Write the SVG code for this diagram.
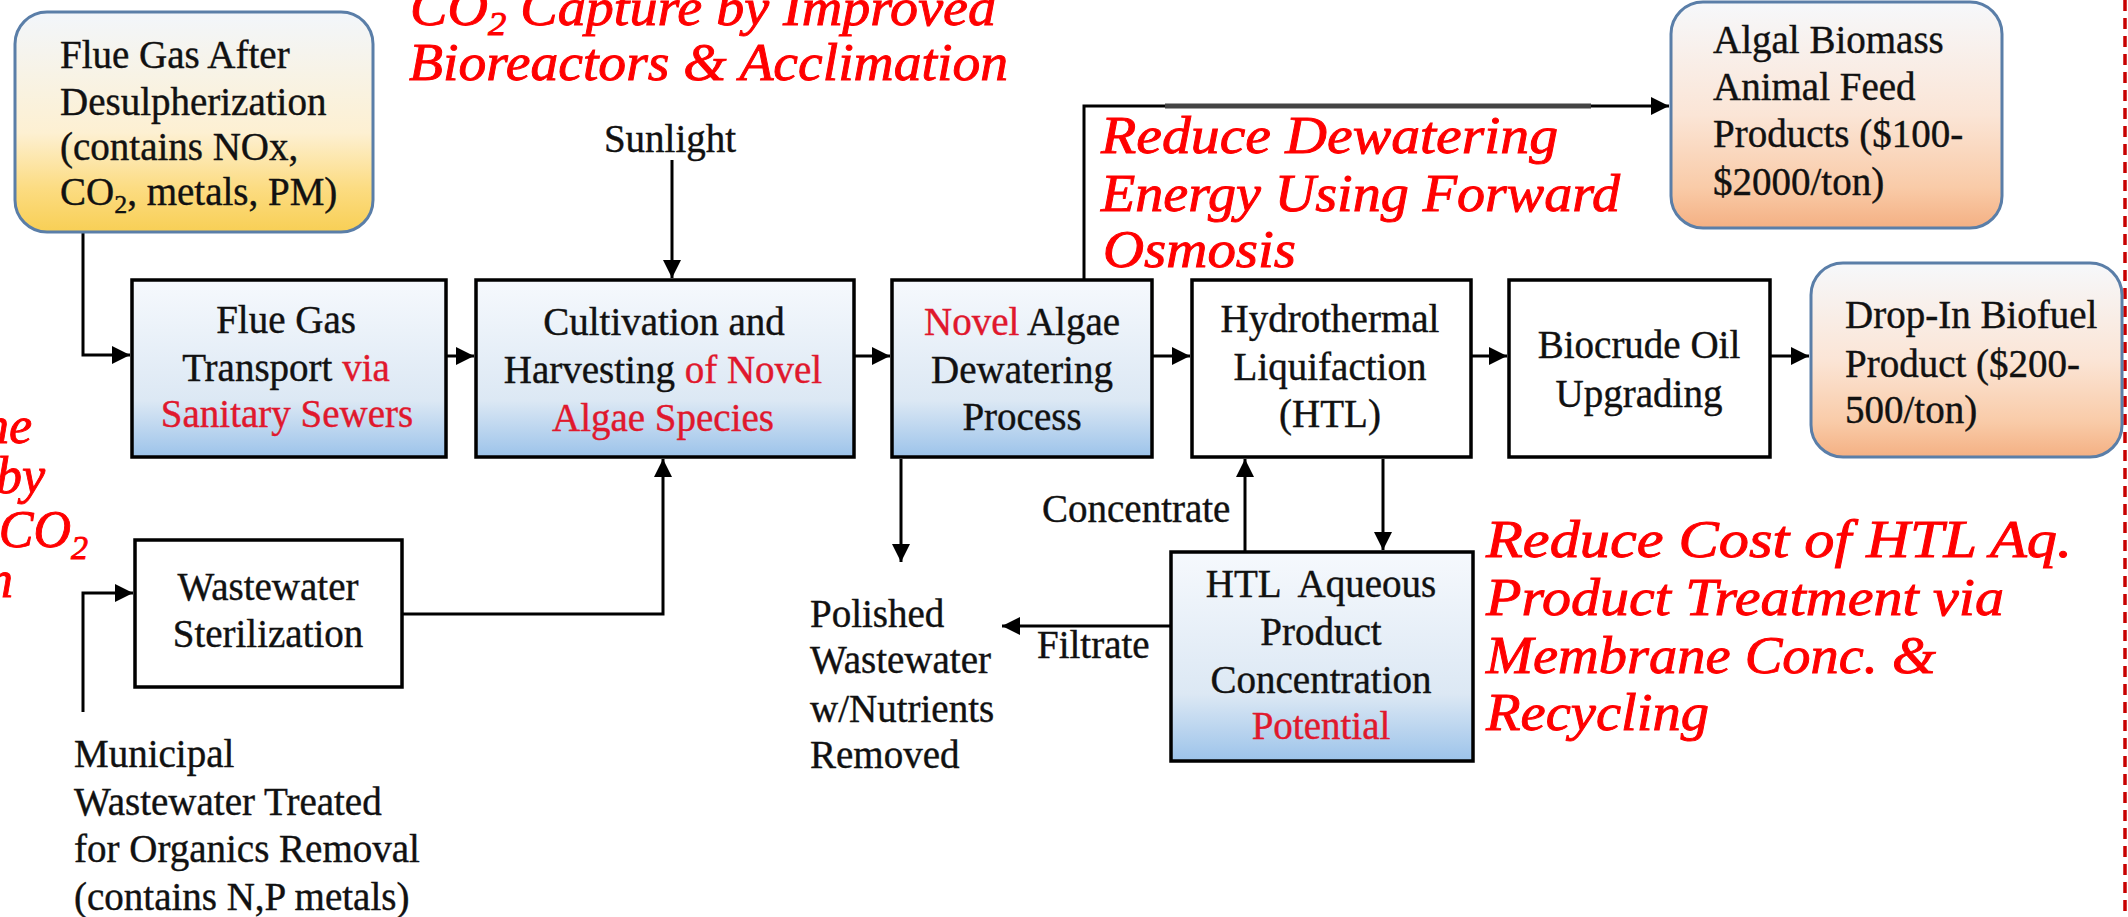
<svg xmlns="http://www.w3.org/2000/svg" width="2128" height="917" viewBox="0 0 2128 917">
<style>
.t{font-family:"Liberation Serif","Times New Roman",serif;font-size:39px;fill:#111;stroke:#111;stroke-width:0.4;}
.c{text-anchor:middle;}
.r{fill:#e0182d;stroke:#e0182d;}
.big{font-family:"Liberation Serif","Times New Roman",serif;font-style:italic;font-size:52px;fill:#ff0000;stroke:#ff0000;stroke-width:0.9;}
.box{stroke:#000;stroke-width:3.5;}
.rbox{stroke:#5a7ea8;stroke-width:3;}
.ln{fill:none;stroke:#000;stroke-width:3;}
</style>
<defs>
<linearGradient id="gBlue" x1="0" y1="0" x2="0" y2="1">
<stop offset="0" stop-color="#f6f9fd"/>
<stop offset="0.68" stop-color="#dce8f4"/>
<stop offset="1" stop-color="#9cc3ea"/>
</linearGradient>
<linearGradient id="gYel" x1="0" y1="0" x2="0" y2="1">
<stop offset="0" stop-color="#f2f6fb"/>
<stop offset="0.55" stop-color="#fdf0d2"/>
<stop offset="0.8" stop-color="#fcdc82"/>
<stop offset="1" stop-color="#f8cf55"/>
</linearGradient>
<linearGradient id="gPeach" x1="0" y1="0" x2="0" y2="1">
<stop offset="0" stop-color="#f6f8fb"/>
<stop offset="0.5" stop-color="#fbe5d6"/>
<stop offset="0.82" stop-color="#f9cba8"/>
<stop offset="1" stop-color="#f4b083"/>
</linearGradient>
<marker id="ah" viewBox="0 0 10 10" refX="10" refY="5" markerWidth="6" markerHeight="6" markerUnits="strokeWidth" orient="auto">
<path d="M0,0 L10,5 L0,10 z" fill="#000"/>
</marker>
</defs>

<!-- annotations -->
<g id="annotations">
<text class="big" x="410" y="25" textLength="586" lengthAdjust="spacingAndGlyphs">CO<tspan font-size="34" dy="10">2</tspan><tspan dy="-10"> Capture by Improved</tspan></text>
<text class="big" x="409" y="80" textLength="599" lengthAdjust="spacingAndGlyphs">Bioreactors &amp; Acclimation</text>
<text class="big" x="1101" y="153" textLength="457" lengthAdjust="spacingAndGlyphs">Reduce  Dewatering</text>
<text class="big" x="1101" y="211" textLength="519" lengthAdjust="spacingAndGlyphs">Energy Using Forward</text>
<text class="big" x="1103" y="267" textLength="193" lengthAdjust="spacingAndGlyphs">Osmosis</text>
<text class="big" x="1486" y="557" textLength="586" lengthAdjust="spacingAndGlyphs">Reduce  Cost of HTL Aq.</text>
<text class="big" x="1486" y="615" textLength="518" lengthAdjust="spacingAndGlyphs">Product  Treatment via</text>
<text class="big" x="1486" y="673" textLength="450" lengthAdjust="spacingAndGlyphs">Membrane Conc. &amp;</text>
<text class="big" x="1486" y="730" textLength="223" lengthAdjust="spacingAndGlyphs">Recycling</text>
<text class="big" x="32" y="443" text-anchor="end">ne</text>
<text class="big" x="45" y="493" text-anchor="end">by</text>
<text class="big" x="88" y="547" text-anchor="end">CO<tspan font-size="34" dy="12">2</tspan></text>
<text class="big" x="13" y="597" text-anchor="end">h</text>
<line x1="2125" y1="0" x2="2125" y2="917" stroke="#c80000" stroke-width="3.5" stroke-dasharray="11 7"/>
</g>

<!-- connectors -->
<g id="connectors">
<path class="ln" d="M83,233 V355 H130" marker-end="url(#ah)"/>
<path class="ln" d="M672,160 V278" marker-end="url(#ah)" stroke-width="2.5"/>
<path class="ln" d="M446,356 H474" marker-end="url(#ah)"/>
<path class="ln" d="M854,356 H890" marker-end="url(#ah)"/>
<path class="ln" d="M1084,280 V106 H1669" marker-end="url(#ah)"/>
<line x1="1165" y1="106" x2="1591" y2="106" stroke="#444" stroke-width="5"/>
<path class="ln" d="M1152,356 H1190" marker-end="url(#ah)"/>
<path class="ln" d="M1471,356 H1507" marker-end="url(#ah)"/>
<path class="ln" d="M1770,356 H1809" marker-end="url(#ah)"/>
<path class="ln" d="M901,459 V562" marker-end="url(#ah)" stroke-width="2.5"/>
<path class="ln" d="M83,712 V593 H133" marker-end="url(#ah)"/>
<path class="ln" d="M402,614 H663 V459" marker-end="url(#ah)"/>
<path class="ln" d="M1245,552 V459" marker-end="url(#ah)" stroke-width="2.5"/>
<path class="ln" d="M1383,459 V550" marker-end="url(#ah)" stroke-width="2.5"/>
<path class="ln" d="M1171,626 H1002" marker-end="url(#ah)"/>
<text class="t c" x="670" y="152">Sunlight</text>
<text class="t" x="1042" y="522">Concentrate</text>
<text class="t" x="1037" y="658">Filtrate</text>
</g>

<g id="flue-gas-after">
<rect class="rbox" x="15" y="12" width="358" height="220" rx="32" fill="url(#gYel)"/>
<text class="t" x="60" y="68">Flue Gas After</text>
<text class="t" x="60" y="115">Desulpherization</text>
<text class="t" x="60" y="160">(contains NOx,</text>
<text class="t" x="60" y="205">CO<tspan font-size="26" dy="8">2</tspan><tspan dy="-8">, metals, PM)</tspan></text>
</g>

<g id="flue-gas-transport">
<rect class="box" x="132" y="280" width="314" height="177" fill="url(#gBlue)"/>
<text class="t c" x="286" y="333">Flue Gas</text>
<text class="t c" x="286" y="381">Transport <tspan class="r">via</tspan></text>
<text class="t c r" x="287" y="427">Sanitary Sewers</text>
</g>

<g id="cultivation">
<rect class="box" x="476" y="280" width="378" height="177" fill="url(#gBlue)"/>
<text class="t c" x="664" y="335">Cultivation and</text>
<text class="t c" x="663" y="383">Harvesting <tspan class="r">of Novel</tspan></text>
<text class="t c r" x="663" y="431">Algae Species</text>
</g>

<g id="dewatering">
<rect class="box" x="892" y="280" width="260" height="177" fill="url(#gBlue)"/>
<text class="t c" x="1022" y="335"><tspan class="r">Novel</tspan> Algae</text>
<text class="t c" x="1022" y="383">Dewatering</text>
<text class="t c" x="1022" y="430">Process</text>
</g>

<g id="htl">
<rect class="box" x="1192" y="280" width="279" height="177" fill="#fff"/>
<text class="t c" x="1330" y="332">Hydrothermal</text>
<text class="t c" x="1330" y="380">Liquifaction</text>
<text class="t c" x="1330" y="427">(HTL)</text>
</g>

<g id="biocrude">
<rect class="box" x="1509" y="280" width="261" height="177" fill="#fff"/>
<text class="t c" x="1639" y="358">Biocrude Oil</text>
<text class="t c" x="1639" y="407">Upgrading</text>
</g>

<g id="algal-biomass">
<rect class="rbox" x="1671" y="2" width="331" height="226" rx="32" fill="url(#gPeach)"/>
<text class="t" x="1713" y="53">Algal Biomass</text>
<text class="t" x="1713" y="100">Animal Feed</text>
<text class="t" x="1713" y="147">Products ($100-</text>
<text class="t" x="1713" y="195">$2000/ton)</text>
</g>

<g id="drop-in">
<rect class="rbox" x="1811" y="263" width="311" height="194" rx="32" fill="url(#gPeach)"/>
<text class="t" x="1845" y="328">Drop-In Biofuel</text>
<text class="t" x="1845" y="377">Product ($200-</text>
<text class="t" x="1845" y="423">500/ton)</text>
</g>

<g id="wastewater-sterilization">
<rect class="box" x="135" y="540" width="267" height="147" fill="#fff"/>
<text class="t c" x="268" y="600">Wastewater</text>
<text class="t c" x="268" y="647">Sterilization</text>
</g>

<g id="htl-aqueous">
<rect class="box" x="1171" y="552" width="302" height="209" fill="url(#gBlue)"/>
<text class="t c" x="1321" y="597" xml:space="preserve">HTL  Aqueous</text>
<text class="t c" x="1321" y="645">Product</text>
<text class="t c" x="1321" y="693">Concentration</text>
<text class="t c r" x="1321" y="739">Potential</text>
</g>

<g id="municipal">
<text class="t" x="74" y="767">Municipal</text>
<text class="t" x="74" y="815">Wastewater Treated</text>
<text class="t" x="74" y="862">for Organics Removal</text>
<text class="t" x="74" y="910">(contains N,P metals)</text>
</g>

<g id="polished">
<text class="t" x="810" y="627">Polished</text>
<text class="t" x="810" y="673">Wastewater</text>
<text class="t" x="810" y="722">w/Nutrients</text>
<text class="t" x="810" y="768">Removed</text>
</g>
</svg>
